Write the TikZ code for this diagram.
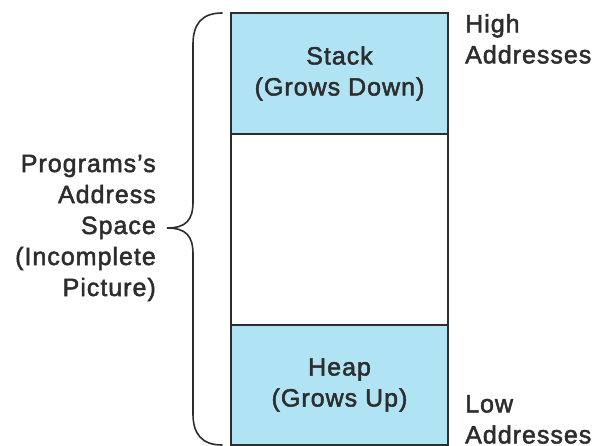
\documentclass[tikz,border=0pt]{standalone}
\usepackage{fontspec}
\setmainfont{Liberation Sans}[FakeBold=2, LetterSpace=4]
\definecolor{seg}{RGB}{176,228,245}
\definecolor{edge}{RGB}{45,45,45}

\begin{document}
\begin{tikzpicture}[x=1pt, y=-1pt, >=stealth,
    every node/.style={font=\fontsize{25}{31}\selectfont, text=edge},
    block/.style={rectangle, draw=edge, line width=1.6pt, minimum width=217pt, inner sep=0pt}]
        \useasboundingbox (0,0) rectangle (599,446);

        \node[block, fill=seg, minimum height=121pt] (stack) at (339.5,73.5) {};
        \node[block, fill=white, minimum height=191pt] (free) at (339.5,229.5) {};
        \node[block, fill=seg, minimum height=120pt] (heap) at (339.5,385) {};

        \node[align=center] (stacktxt) at (stack.center) {Stack\\(Grows Down)};
        \node[align=center] (heaptxt) at (heap.center) {Heap\\(Grows Up)};

        \node[anchor=north west, inner sep=0pt, align=left] (high) at (465,14) {High\\Addresses};
        \node[anchor=north west, inner sep=0pt, align=left] (low) at (465,395) {Low\\Addresses};

        \node[anchor=east, inner sep=0pt, align=right] (space) at (156,228) {Programs’s\\Address\\Space\\(Incomplete\\Picture)};

        % brace round the whole address space
        \draw[edge, line width=1.6pt, line cap=round]
            (222,13) .. controls (202,13) and (193,24) .. (193,44) -- (193,202)
            .. controls (193,220) and (186,228) .. (167,228)
            .. controls (186,228) and (193,236) .. (193,254) -- (193,414)
            .. controls (193,434) and (202,445) .. (222,445);
    \end{tikzpicture}
\end{document}
